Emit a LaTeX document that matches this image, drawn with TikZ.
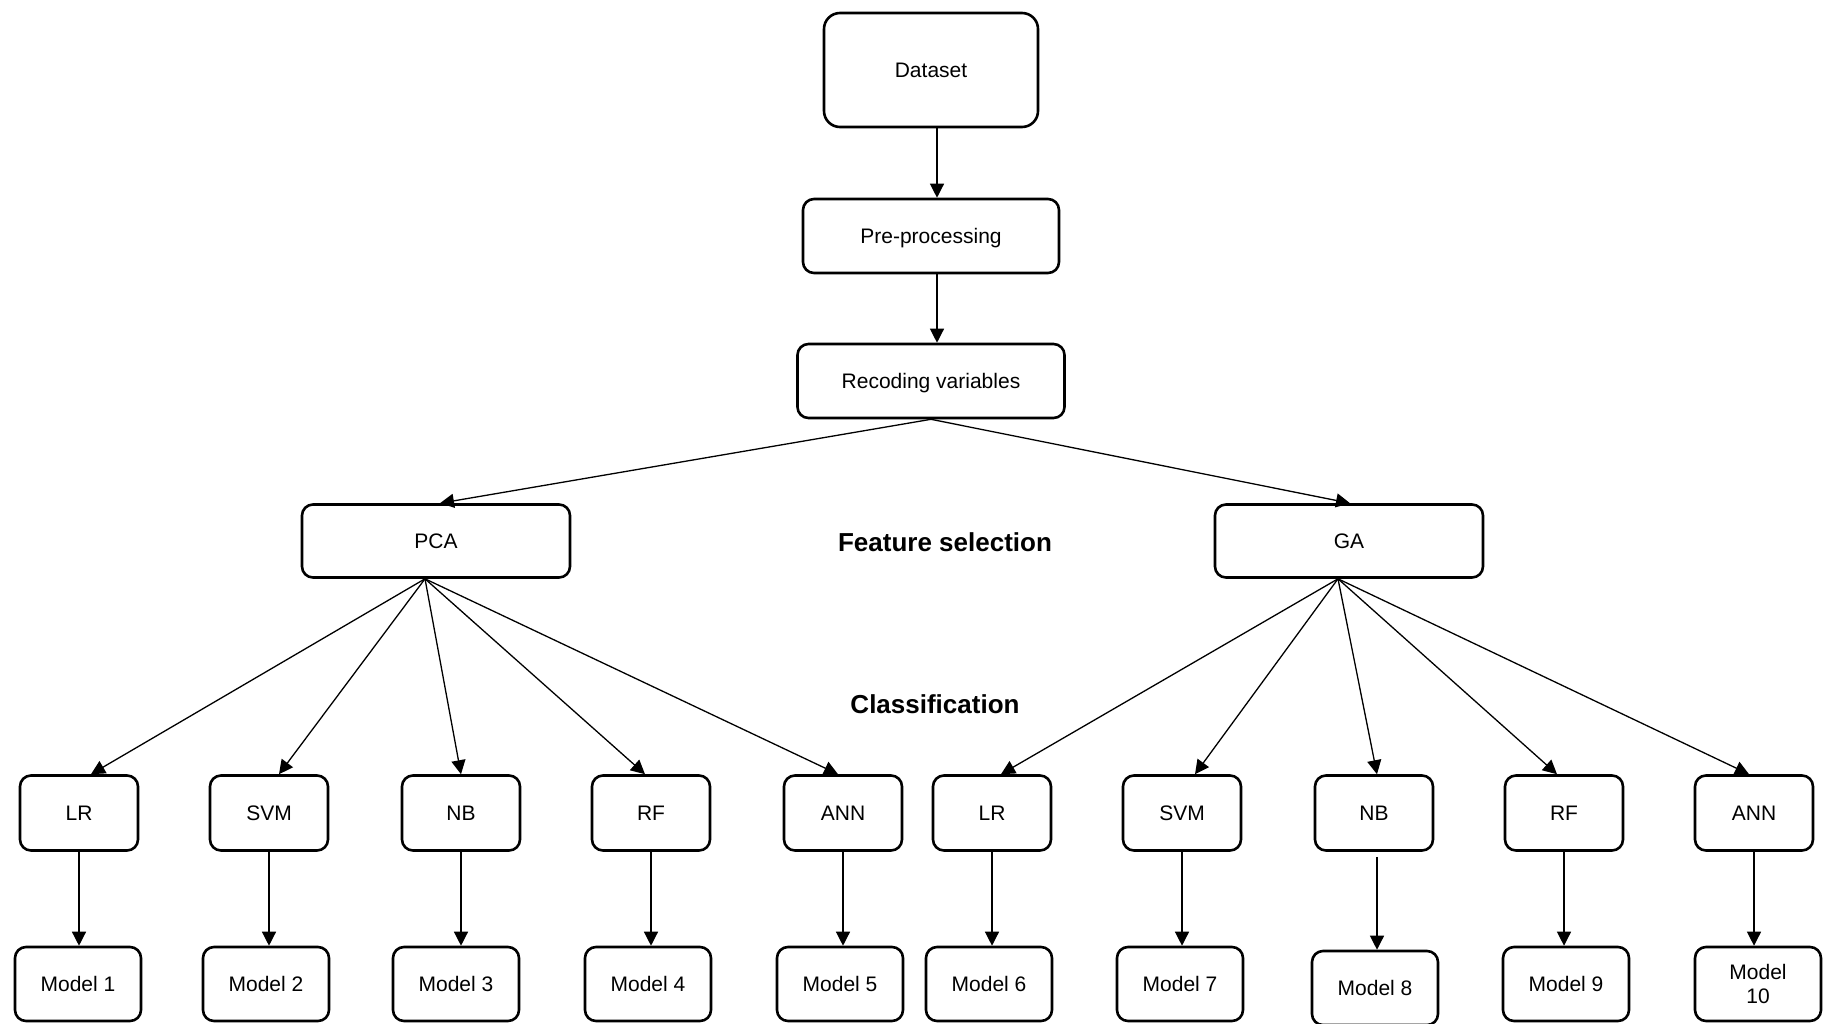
\documentclass[tikz,border=0pt]{standalone}
\usepackage{fontspec}
\setmainfont{Liberation Sans}
\usepackage{tikz}
\usetikzlibrary{positioning}
\usetikzlibrary{shapes,arrows,calc,arrows.meta}

\begin{document}
\begin{tikzpicture}[x=1pt, y=-1pt,
  box/.style={draw, rectangle, rounded corners=11pt, line width=2.6pt, inner sep=0pt,
    font=\fontsize{21}{24}\selectfont, align=center, text height=15pt, text depth=0pt},
  algo/.style={box, minimum width=118pt, minimum height=75pt},
  model/.style={box, minimum width=126pt, minimum height=74pt},
  link/.style={-{Triangle[length=14pt,width=14pt]}, line width=1.3pt},
  stage/.style={font=\bfseries\fontsize{26}{30}\selectfont}]
  \useasboundingbox (0,0) rectangle (1825,1023);

  % Nodes
  \node [box, minimum width=214pt, minimum height=114pt, rounded corners=16pt] (data) at (931,70) {Dataset};
  \node [box, minimum width=256pt, minimum height=74pt] (prep) at (931,236) {Pre-processing};
  \node [box, minimum width=267pt, minimum height=74pt] (recode) at (931,381) {Recoding variables};
  \node [box, minimum width=268pt, minimum height=73pt] (pca) at (436,541) {PCA};
  \node [box, minimum width=268pt, minimum height=73pt] (ga) at (1349,541) {GA};

  % Stage labels
  \node [stage] (featsel) at (945,542) {Feature selection};
  \node [stage] (classif) at (935,704) {Classification};

  % Classifiers
  \foreach \name/\x/\lbl in {lr1/79/LR, svm1/269/SVM, nb1/461/NB, rf1/651/RF, ann1/843/ANN,
                             lr2/992/LR, svm2/1182/SVM, nb2/1374/NB, rf2/1564/RF, ann2/1754/ANN}
    \node [algo] (\name) at (\x,813) {\lbl};

  % Models
  \foreach \i/\x/\y in {1/78/984, 2/266/984, 3/456/984, 4/648/984, 5/840/984,
                        6/989/984, 7/1180/984, 8/1375/988, 9/1566/984}
    \node [model] (m\i) at (\x,\y) {Model \i};
  \node [model, text height=, text depth=] (m10) at (1758,984) {Model\\10};

  % Arrows
  \draw [link] ([xshift=6pt]data.south) -- ([xshift=6pt]prep.north);
  \draw [link] ([xshift=6pt]prep.south) -- ([xshift=6pt]recode.north);
  \draw [link] (recode.south) -- ([xshift=4pt]pca.north);
  \draw [link] (recode.south) -- ([xshift=1pt]ga.north);

  \foreach \t/\s in {lr1/12, svm1/10, nb1/0, rf1/-6, ann1/-5}
    \draw [link] ([xshift=-11pt]pca.south) -- ([xshift=\s pt]\t.north);
  \foreach \t/\s in {lr2/9, svm2/13, nb2/3, rf2/-7, ann2/-5}
    \draw [link] ([xshift=-11pt]ga.south) -- ([xshift=\s pt]\t.north);

  \foreach \a/\m in {lr1/m1, svm1/m2, nb1/m3, rf1/m4, ann1/m5,
                     lr2/m6, svm2/m7, rf2/m9, ann2/m10}
    \draw [link] (\a.south) -- (\a.south |- \m.north);
  \draw [link, shorten <=5pt] ([xshift=3pt]nb2.south) -- ([xshift=3pt]nb2.south |- m8.north);
\end{tikzpicture}
\end{document}
